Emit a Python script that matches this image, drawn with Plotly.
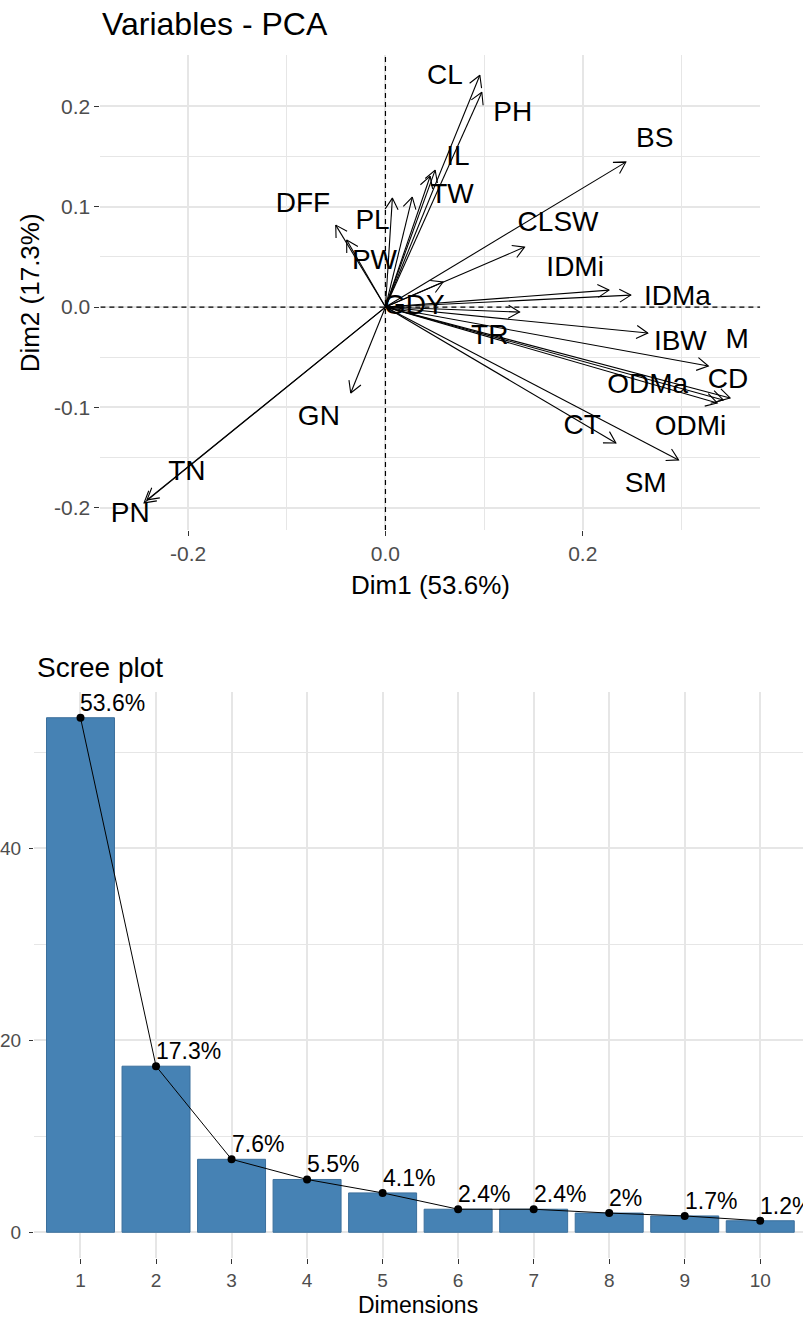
import math
import plotly.graph_objects as go

W, H = 803, 1317
FONT = "Liberation Sans, Arial, sans-serif"

# ---------------- PCA variables (Dim1, Dim2) ----------------
var_labels = ["CL", "PH", "BS", "IL", "TW", "", "PL", "DFF", "PW", "CLSW", "GDY",
              "IDMi", "IDMa", "TR", "IBW", "M", "CD", "ODMa", "ODMi", "CT", "SM",
              "GN", "TN", "PN"]
dim1 = [0.0957, 0.0977, 0.2437, 0.0504, 0.0453, 0.0272, 0.0070, -0.0504, -0.0393,
        0.1410, 0.0584, 0.2266, 0.2487, 0.1360, 0.2659, 0.3273, 0.3494, 0.3424,
        0.3364, 0.2336, 0.2971, -0.0352, -0.2417, -0.2447]
dim2 = [0.2308, 0.2139, 0.1443, 0.1363, 0.1303, 0.1095, 0.1085, 0.0816, 0.0667,
        0.0597, 0.0249, 0.0169, 0.0119, -0.0050, -0.0259, -0.0587, -0.0905, -0.0925,
        -0.0955, -0.1353, -0.1522, -0.0856, -0.1920, -0.1950]
# repelled label positions
label_x = [0.0604, 0.1290, 0.2730, 0.0735, 0.0675, None, -0.0131, -0.0836, -0.0111,
           0.1750, 0.0292, 0.1923, 0.2960, 0.1057, 0.2990, 0.3565, 0.3474, 0.2659,
           0.3092, 0.1994, 0.2638, -0.0675, -0.2014, -0.2588]
label_y = [0.2289, 0.1920, 0.1660, 0.1480, 0.1110, None, 0.0846, 0.1015, 0.0448,
           0.0826, 0.0000, 0.0378, 0.0090, -0.0299, -0.0358, -0.0338, -0.0736, -0.0786,
           -0.1204, -0.1194, -0.1771, -0.1104, -0.1652, -0.2070]
pca_xticks = [-0.2, 0.0, 0.2]
pca_xtick_text = ["-0.2", "0.0", "0.2"]
pca_yticks = [-0.2, -0.1, 0.0, 0.1, 0.2]
pca_ytick_text = ["-0.2", "-0.1", "0.0", "0.1", "0.2"]

# ---------------- Scree plot ----------------
dimensions = [1, 2, 3, 4, 5, 6, 7, 8, 9, 10]
explained = [53.6, 17.3, 7.6, 5.5, 4.1, 2.4, 2.4, 2.0, 1.7, 1.2]
scree_yticks = [0, 20, 40]

# ---------------- layout geometry (pixels) ----------------
pca_px = dict(l=96, r=760, t=55, b=530)
pca_xr = [-0.289, 0.380]
pca_yr = [-0.222, 0.251]
scr_px = dict(l=29, r=803, t=692, b=1258)
scr_xr = [0.382, 10.566]
scr_yr = [-2.68, 56.28]


def xd(px):
    return px / W


def yd(py):
    return 1 - py / H


fig = go.Figure()

# arrows with open heads computed in pixel space
sx = (pca_px["r"] - pca_px["l"]) / (pca_xr[1] - pca_xr[0])
sy = (pca_px["b"] - pca_px["t"]) / (pca_yr[1] - pca_yr[0])
head_len = 13.0
head_ang = math.radians(30)
ax_x, ax_y = [], []
for x, y in zip(dim1, dim2):
    ax_x += [0, x, None]
    ax_y += [0, y, None]
    th = math.atan2(y * sy, x * sx)
    for s in (1, -1):
        a = th + s * head_ang
        wx = x - head_len * math.cos(a) / sx
        wy = y - head_len * math.sin(a) / sy
        ax_x += [wx, x]
        ax_y += [wy, y]
    ax_x.append(None)
    ax_y.append(None)

fig.add_trace(go.Scatter(x=ax_x, y=ax_y, mode="lines", xaxis="x", yaxis="y",
                         line=dict(color="black", width=1.1), hoverinfo="skip",
                         showlegend=False))

lx = [a for a, t in zip(label_x, var_labels) if t]
ly = [b for b, t in zip(label_y, var_labels) if t]
lt = [t for t in var_labels if t]
fig.add_trace(go.Scatter(x=lx, y=ly, text=lt, mode="text", xaxis="x", yaxis="y",
                         textposition="middle center",
                         textfont=dict(family=FONT, size=28, color="black"),
                         showlegend=False, cliponaxis=False))

# scree
fig.add_trace(go.Bar(x=dimensions, y=explained, xaxis="x2", yaxis="y2",
                     marker=dict(color="#4682B4", line=dict(color="#3b6f9c", width=1)),
                     width=0.9, showlegend=False))
fig.add_trace(go.Scatter(x=dimensions, y=explained, xaxis="x2", yaxis="y2",
                         mode="lines+markers",
                         line=dict(color="black", width=1),
                         marker=dict(color="black", size=8),
                         showlegend=False, cliponaxis=False))

grid = "#e6e6e6"
tickfont = dict(family=FONT, size=21, color="#4d4d4d")

annotations = [
    dict(text="Variables - PCA", xref="paper", yref="paper", x=xd(96), y=yd(24),
         xanchor="left", yanchor="middle", showarrow=False,
         font=dict(family=FONT, size=32, color="black")),
    dict(text="Dim1 (53.6%)", xref="paper", yref="paper",
         x=xd((pca_px["l"] + pca_px["r"]) / 2), y=yd(585),
         xanchor="center", yanchor="middle", showarrow=False,
         font=dict(family=FONT, size=26, color="black")),
    dict(text="Dim2 (17.3%)", xref="paper", yref="paper", x=xd(25),
         y=yd((pca_px["t"] + pca_px["b"]) / 2), textangle=-90,
         xanchor="center", yanchor="middle", showarrow=False,
         font=dict(family=FONT, size=26, color="black")),
    dict(text="Scree plot", xref="paper", yref="paper", x=xd(30), y=yd(667),
         xanchor="left", yanchor="middle", showarrow=False,
         font=dict(family=FONT, size=28, color="black")),
    dict(text="Dimensions", xref="paper", yref="paper",
         x=xd(416), y=yd(1305), xanchor="center", yanchor="middle",
         showarrow=False, font=dict(family=FONT, size=23, color="black")),
]
for d, v in zip(dimensions, explained):
    annotations.append(dict(text=f"{v:g}%", xref="x2", yref="y2", x=d, y=v,
                            xanchor="left", yanchor="bottom", xshift=-2, yshift=0,
                            showarrow=False,
                            font=dict(family=FONT, size=23, color="black")))

fig.update_layout(
    width=W, height=H, margin=dict(l=0, r=0, t=0, b=0),
    paper_bgcolor="white", plot_bgcolor="white",
    xaxis=dict(domain=[xd(pca_px["l"]), xd(pca_px["r"])], range=pca_xr,
               tickvals=pca_xticks, ticktext=pca_xtick_text,
               showgrid=True, gridcolor=grid,
               gridwidth=1.6, zeroline=False, ticks="outside", ticklen=5,
               tickcolor="#333333", tickfont=tickfont, showline=False,
               minor=dict(dtick=0.1, tick0=0, showgrid=True, gridcolor=grid, gridwidth=1.2),
               anchor="y"),
    yaxis=dict(domain=[yd(pca_px["b"]), yd(pca_px["t"])], range=pca_yr,
               tickvals=pca_yticks, ticktext=pca_ytick_text,
               showgrid=True, gridcolor=grid,
               gridwidth=1.6, zeroline=False, ticks="outside", ticklen=5,
               tickcolor="#333333", tickfont=tickfont, showline=False,
               minor=dict(dtick=0.05, tick0=0, showgrid=True, gridcolor=grid, gridwidth=1.2),
               anchor="x"),
    xaxis2=dict(domain=[xd(scr_px["l"]), xd(scr_px["r"])], range=scr_xr,
                tickvals=dimensions, showgrid=True, gridcolor=grid, gridwidth=1.6,
                zeroline=False, ticks="outside", ticklen=5, tickcolor="#333333",
                tickfont=dict(family=FONT, size=19, color="#4d4d4d"), anchor="y2"),
    yaxis2=dict(domain=[yd(scr_px["b"]), yd(scr_px["t"])], range=scr_yr,
                tickvals=scree_yticks, showgrid=True, gridcolor=grid, gridwidth=1.6,
                zeroline=False, ticks="outside", ticklen=4, tickcolor="#333333",
                tickfont=dict(family=FONT, size=19, color="#4d4d4d"),
                ticklabelstandoff=4,
                minor=dict(dtick=10, tick0=0, showgrid=True, gridcolor=grid, gridwidth=1.2),
                anchor="x2"),
    bargap=0.1,
    shapes=[
        dict(type="line", xref="x", yref="y", x0=0, x1=0, y0=pca_yr[0], y1=pca_yr[1],
             line=dict(color="black", width=1.2, dash="5px,4px"), layer="above"),
        dict(type="line", xref="x", yref="y", x0=pca_xr[0], x1=pca_xr[1], y0=0, y1=0,
             line=dict(color="black", width=1.2, dash="5px,4px"), layer="above"),
    ],
    annotations=annotations,
)

fig.write_html("out.html", config={"displayModeBar": False},
               post_script="document.body.style.margin='0px';document.body.style.overflow='hidden';")
